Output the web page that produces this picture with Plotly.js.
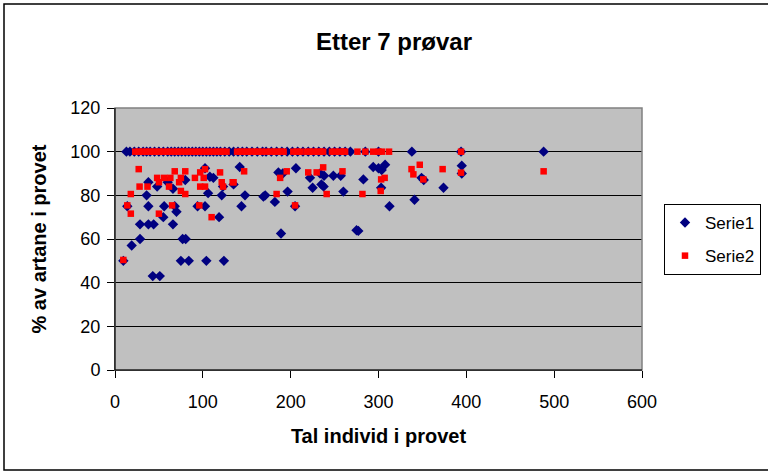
<!DOCTYPE html>
<html>
<head>
<meta charset="utf-8">
<script src="https://cdn.plot.ly/plotly-3.0.1.min.js"></script>
<style>html,body{margin:0;padding:0;background:#fff;}#chart{width:768px;height:473px;}</style>
</head>
<body>
<div id="chart"></div>
<script>
// Serie1 (blue diamonds)
const serie1X = [9.5,19,28.5,28.5,38,44,38,36,38,56,68,55,66,66,70,77,80.5,75,84,104,124,80,94,102.5,102.5,108,106,112,121.5,118.5,123,43,51,14,60,48,
  142,135,148,144,169,171,182,196.5,186,191,206,205,189,222,225,233.5,235,237.5,238,248.6,257,260,275,
  294,300,307.5,303.6,282.8,303,349,351.5,374,394.8,394.8,341,312.5,277,
  13,17,22,27,32,36,40,45,50,55,60,64,68,72,76,80,84,88,92,96,100,104,108,112,116,120,125,130,135,140,145,150,156,162,168,172,178,184,190,196,202,208,214,220,226,232,238,244,250,256,262,268,285,300,338,394,488];
const serie1Y = [50,57,60,66.7,66.7,66.7,86,80,75,75,75,70,66.7,83,72.5,60,60,50,50,50,50,87,75,75,92.4,88.5,81,88,80,70,84,43,43,75,86,84,
  93,85,80,75,79.4,80,77,81.7,90.5,90,92.4,75,62.5,88,83.5,90,85,84,89,89,89,81.7,64,
  93,92.4,94,91.6,87.3,83.5,88,87,83.5,93.6,90,78,75,63.7,
  100,100,100,100,100,100,100,100,100,100,100,100,100,100,100,100,100,100,100,100,100,100,100,100,100,100,100,100,100,100,100,100,100,100,100,100,100,100,100,100,100,100,100,100,100,100,100,100,100,100,100,100,100,100,100,100,100];
// Serie2 (red squares)
const serie2X = [27,28,37,18,14,18,9.5,48,50,56,61.5,63,68,73,75,80,75,80,65,50,91,96,97,102.5,101,97,102.5,110,119.6,121.5,123,134,
  147,135,188,195.5,184,205,220,229.6,237,259,241,
  337.6,347,339.7,351,373,394,303,307,302.5,281.7,488,
  23,27,31,35,39,43,47,51,55,59,63,67,71,75,79,83,87,91,95,99,103,107,111,115,119,123,127,139,143,147,151,155,159,163,167,172,177,181,185,189,192,203,207,211,218,222,226,230,234,237,247,251,256,260,262,276,285,294,300,304,312,394];
const serie2Y = [92,84,84,80.6,75.4,71.6,50.4,88,86,88,84,88,91,86,88,91,82,80.6,75.4,71.6,88,75.4,90.5,92,88,84,84,70,90.5,86,84,86,
  91,86,88,91,80.6,75.4,90.5,90.5,92.8,91,80.6,
  92,94,89.6,87.3,92,90.4,87.3,88,82,80.6,91,
  100,100,100,100,100,100,100,100,100,100,100,100,100,100,100,100,100,100,100,100,100,100,100,100,100,100,100,100,100,100,100,100,100,100,100,100,100,100,100,100,100,100,100,100,100,100,100,100,100,100,100,100,100,100,100,100,100,100,100,100,100,100];

const xTicks = [0,100,200,300,400,500,600];
const yTicks = [0,20,40,60,80,100,120];

const font = 'Liberation Sans, Arial, sans-serif';

const traces = [
  {x: serie1X, y: serie1Y, name: 'Serie1', type: 'scatter', mode: 'markers', legendgroup: 'a',
   marker: {symbol: 'diamond', size: 8, color: '#000080', line: {width: 0}}},
  {x: serie2X, y: serie2Y, name: 'Serie2', type: 'scatter', mode: 'markers', legendgroup: 'b',
   marker: {symbol: 'square', size: 6.5, color: '#ff0000', line: {width: 0}}}
];

const L = 115, R = 642, T = 108, B = 370, W = 768, H = 473;
const pw = R - L, ph = B - T;
const px = v => (v - L) / pw;
const py = v => (B - v) / ph;

const layout = {
  width: W, height: H,
  margin: {l: L, r: W - R, t: T, b: H - B, pad: 0, autoexpand: false},
  paper_bgcolor: '#ffffff',
  plot_bgcolor: '#c0c0c0',
  showlegend: true,
  font: {family: font, color: '#000', size: 18},
  title: {text: '<b>Etter 7 prøvar</b>', font: {family: font, size: 24, color: '#000'},
          xref: 'container', x: 394/W, xanchor: 'center', yref: 'container', y: 1 - 42/H, yanchor: 'middle'},
  xaxis: {range: [0, 600], tickvals: xTicks, ticktext: xTicks.map(String), showgrid: false, zeroline: false,
          showline: true, linecolor: '#000', linewidth: 1, ticks: 'outside', ticklen: 7, tickcolor: '#000',
          ticklabelstandoff: 8,
          tickfont: {family: font, size: 18}, fixedrange: true,
          title: {text: '<b>Tal individ i provet</b>', font: {family: font, size: 20}, standoff: 18}},
  yaxis: {range: [0, 120], tickvals: yTicks, ticktext: yTicks.map(String), showgrid: true, gridcolor: '#000', gridwidth: 1,
          zeroline: false, showline: true, linecolor: '#000', linewidth: 1, ticks: 'outside', ticklen: 7, tickcolor: '#000',
          ticklabelstandoff: 3,
          tickfont: {family: font, size: 18}, fixedrange: true,
          title: {text: '<b>% av artane i provet</b>', font: {family: font, size: 20}, standoff: 18}},
  legend: {x: px(664), y: py(204), xanchor: 'left', yanchor: 'top', bordercolor: '#000', borderwidth: 1,
           bgcolor: '#fff', font: {family: font, size: 17}, tracegroupgap: 8},
  shapes: [
    {type: 'rect', xref: 'paper', yref: 'paper', x0: 0, x1: 1, y0: 0, y1: 1, line: {color: '#808080', width: 1.5}, layer: 'above'},
    {type: 'line', xref: 'paper', yref: 'paper', x0: 0, x1: 0, y0: 0, y1: 1, line: {color: '#000', width: 1}, layer: 'above'},
    {type: 'line', xref: 'paper', yref: 'paper', x0: 0, x1: 1, y0: 0, y1: 0, line: {color: '#000', width: 1}, layer: 'above'},
    {type: 'rect', xref: 'paper', yref: 'paper', x0: px(4), x1: px(790), y0: py(470), y1: py(4), line: {color: '#000', width: 1.5}, layer: 'below'}
  ]
};

Plotly.newPlot('chart', traces, layout, {displayModeBar: false, staticPlot: true});
</script>
</body>
</html>
